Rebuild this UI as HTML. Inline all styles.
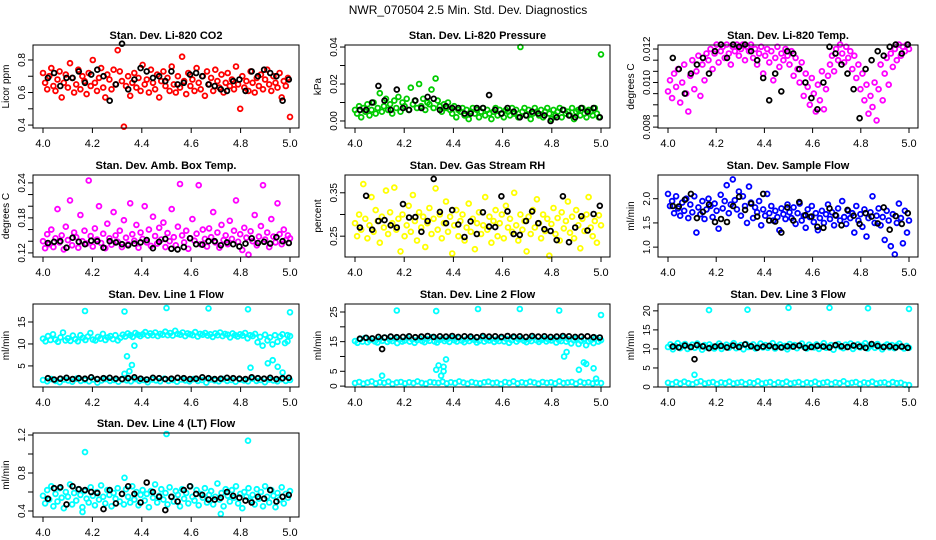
<!DOCTYPE html>
<html><head><meta charset="utf-8"><title>NWR_070504 Diagnostics</title>
<style>
html,body{margin:0;padding:0;background:#fff;}
svg{display:block;font-family:"Liberation Sans",sans-serif;}
</style></head>
<body>
<svg id="chart" width="936" height="540" viewBox="0 0 936 540" xmlns="http://www.w3.org/2000/svg">
<rect x="0" y="0" width="936" height="540" fill="#fff"/>
<text x="468" y="14" font-size="12" text-anchor="middle" fill="#000">NWR_070504  2.5 Min. Std. Dev. Diagnostics</text>
</svg>
<script>
const xTicks=[4.0,4.2,4.4,4.6,4.8,5.0];
const xTickLabels=["4.0","4.2","4.4","4.6","4.8","5.0"];

const co2Red=[0.72,0.66,0.62,0.70,0.75,0.64,0.61,0.68,0.73,0.57,0.66,0.71,0.63,0.78,0.69,0.60,0.65,0.74,0.62,0.70,
0.67,0.59,0.72,0.64,0.80,0.66,0.61,0.69,0.75,0.63,0.57,0.71,0.68,0.62,0.74,0.65,0.86,0.73,0.67,0.39,
0.64,0.70,0.58,0.66,0.72,0.63,0.69,0.61,0.77,0.65,0.68,0.60,0.74,0.66,0.62,0.71,0.57,0.67,0.73,0.64,
0.69,0.61,0.76,0.65,0.60,0.70,0.63,0.82,0.67,0.59,0.72,0.64,0.68,0.61,0.75,0.66,0.62,0.70,0.58,0.73,
0.65,0.69,0.61,0.74,0.67,0.63,0.71,0.60,0.66,0.72,0.64,0.68,0.62,0.76,0.65,0.50,0.70,0.63,0.67,0.61,
0.73,0.66,0.60,0.69,0.64,0.71,0.62,0.68,0.74,0.65,0.61,0.70,0.66,0.63,0.72,0.57,0.67,0.64,0.69,0.45];
const co2Black=[0.69,0.72,0.64,0.69,0.69,0.73,0.66,0.71,0.74,0.70,0.55,0.65,0.90,0.62,0.68,0.75,0.73,0.69,0.70,0.67,0.73,0.65,0.66,0.71,0.72,0.70,0.65,0.64,0.62,0.61,0.67,0.68,0.61,0.73,0.70,0.74,0.72,0.70,0.55,0.68];

const presGreen=[0.006,0.004,0.008,0.002,0.007,0.005,0.009,0.003,0.006,0.010,0.004,0.007,0.015,0.005,0.008,0.012,0.006,0.009,0.004,0.011,
0.007,0.013,0.005,0.010,0.008,0.012,0.006,0.018,0.009,0.011,0.007,0.020,0.008,0.012,0.006,0.010,0.009,0.017,0.007,0.023,
0.011,0.008,0.005,0.009,0.007,0.010,0.006,0.004,0.008,0.002,0.006,0.005,0.007,0.003,0.006,0.001,0.005,0.007,0.004,0.006,
0.002,0.005,0.007,0.003,0.006,0.004,0.001,0.005,0.007,0.003,0.006,0.004,0.002,0.006,0.005,0.003,0.007,0.004,0.006,0.002,
0.040,0.005,0.007,0.003,0.006,0.001,0.004,0.007,0.005,0.003,0.006,0.002,0.005,0.007,0.004,0.001,0.006,0.003,0.005,0.007,
0.002,0.006,0.004,0.005,0.003,0.007,0.001,0.005,0.006,0.003,0.007,0.004,0.002,0.006,0.005,0.003,0.007,0.004,0.002,0.036];
const presBlack=[0.006,0.006,0.010,0.019,0.011,0.006,0.017,0.007,0.006,0.011,0.007,0.013,0.012,0.006,0.008,0.007,0.007,0.004,0.004,0.007,0.007,0.014,0.006,0.004,0.007,0.005,0.002,0.003,0.005,0.004,0.003,0.000,0.002,0.006,0.003,0.002,0.007,0.005,0.007,0.002];

const tempMagenta=[0.0096,0.0101,0.0093,0.0104,0.0098,0.0106,0.0091,0.0100,0.0108,0.0095,0.0087,0.0103,0.0110,0.0097,0.0105,0.0112,0.0094,0.0108,0.0101,0.0113,
0.0110,0.0115,0.0106,0.0113,0.0117,0.0109,0.0114,0.0116,0.0111,0.0117,0.0113,0.0108,0.0116,0.0114,0.0117,0.0112,0.0115,0.0117,0.0110,0.0116,
0.0114,0.0117,0.0111,0.0115,0.0108,0.0113,0.0116,0.0104,0.0112,0.0115,0.0109,0.0114,0.0101,0.0111,0.0116,0.0107,0.0113,0.0110,0.0115,0.0112,
0.0108,0.0114,0.0103,0.0111,0.0106,0.0100,0.0109,0.0094,0.0104,0.0098,0.0090,0.0102,0.0095,0.0087,0.0099,0.0092,0.0105,0.0088,0.0097,0.0103,
0.0108,0.0112,0.0105,0.0115,0.0110,0.0117,0.0113,0.0109,0.0116,0.0111,0.0114,0.0106,0.0112,0.0102,0.0108,0.0097,0.0104,0.0092,0.0099,0.0086,
0.0094,0.0089,0.0100,0.0083,0.0097,0.0108,0.0092,0.0104,0.0111,0.0099,0.0113,0.0107,0.0115,0.0110,0.0117,0.0112,0.0116,0.0114,0.0117,0.0115];
const tempBlack=[0.0111,0.0106,0.0095,0.0104,0.0108,0.0111,0.0104,0.0114,0.0117,0.0111,0.0117,0.0116,0.0117,0.0114,0.0110,0.0102,0.0092,0.0104,0.0096,0.0114,0.0113,0.0106,0.0100,0.0093,0.0088,0.0100,0.0116,0.0113,0.0108,0.0104,0.0097,0.0084,0.0106,0.0110,0.0114,0.0112,0.0116,0.0117,0.0113,0.0117];

const ambMagenta=[0.140,0.128,0.152,0.135,0.160,0.130,0.145,0.195,0.138,0.150,0.126,0.165,0.142,0.210,0.133,0.155,0.147,0.129,0.185,0.140,
0.158,0.136,0.244,0.149,0.131,0.162,0.143,0.200,0.137,0.153,0.128,0.170,0.145,0.134,0.190,0.150,0.139,0.158,0.130,0.176,
0.146,0.135,0.205,0.152,0.141,0.168,0.129,0.155,0.144,0.200,0.138,0.160,0.132,0.182,0.149,0.136,0.163,0.143,0.172,0.130,
0.154,0.140,0.195,0.147,0.133,0.165,0.238,0.150,0.138,0.158,0.127,0.145,0.178,0.141,0.153,0.236,0.135,0.160,0.144,0.131,
0.162,0.147,0.190,0.138,0.155,0.129,0.168,0.142,0.150,0.135,0.175,0.144,0.158,0.210,0.139,0.152,0.125,0.163,0.146,0.117,
0.157,0.140,0.185,0.133,0.148,0.166,0.236,0.143,0.155,0.130,0.178,0.148,0.138,0.205,0.152,0.135,0.160,0.142,0.150,0.145];
const ambBlack=[0.137,0.139,0.140,0.129,0.146,0.139,0.135,0.141,0.140,0.129,0.140,0.138,0.135,0.133,0.136,0.138,0.142,0.128,0.139,0.144,0.127,0.126,0.130,0.145,0.135,0.134,0.140,0.140,0.133,0.138,0.135,0.131,0.136,0.145,0.137,0.139,0.136,0.147,0.140,0.137];

const rhYellow=[0.280,0.250,0.300,0.265,0.370,0.290,0.245,0.275,0.340,0.260,0.310,0.285,0.235,0.295,0.270,0.355,0.255,0.305,0.280,0.362,
0.265,0.290,0.215,0.300,0.250,0.275,0.320,0.260,0.345,0.285,0.240,0.305,0.270,0.295,0.225,0.280,0.315,0.255,0.290,0.360,
0.265,0.300,0.245,0.280,0.330,0.260,0.295,0.210,0.275,0.310,0.250,0.285,0.300,0.240,0.270,0.325,0.260,0.290,0.220,0.280,
0.305,0.255,0.275,0.340,0.265,0.295,0.235,0.285,0.310,0.250,0.280,0.300,0.245,0.320,0.270,0.290,0.260,0.350,0.275,0.240,
0.300,0.265,0.285,0.215,0.295,0.255,0.310,0.270,0.335,0.280,0.245,0.300,0.262,0.290,0.205,0.278,0.315,0.255,0.292,0.240,
0.305,0.268,0.285,0.330,0.258,0.295,0.245,0.310,0.275,0.222,0.290,0.262,0.300,0.340,0.270,0.250,0.285,0.235,0.298,0.275];
const rhBlack=[0.270,0.343,0.265,0.285,0.287,0.275,0.270,0.324,0.293,0.294,0.260,0.285,0.382,0.306,0.280,0.310,0.277,0.248,0.284,0.255,0.305,0.272,0.271,0.342,0.307,0.255,0.253,0.285,0.307,0.280,0.266,0.262,0.241,0.342,0.236,0.270,0.296,0.263,0.301,0.320];

const flowBlue=[2.10,1.85,1.95,1.70,2.05,1.80,1.65,1.92,1.75,2.00,1.60,1.88,1.72,2.05,1.30,1.82,1.68,1.95,1.58,1.78,
2.00,1.85,1.62,1.90,1.75,1.38,2.08,1.80,1.95,2.28,1.70,1.88,2.40,1.97,1.78,2.15,1.65,2.05,1.85,1.50,
2.25,1.92,1.60,1.82,1.72,1.95,1.45,1.78,1.65,2.10,1.70,1.85,1.55,1.75,1.62,1.35,1.80,1.68,1.58,1.88,
1.72,1.60,1.82,1.48,1.70,1.90,1.55,1.65,1.40,1.78,1.62,1.85,1.52,1.70,1.35,1.60,1.75,1.50,1.68,1.88,
1.58,1.72,1.45,1.65,1.80,1.55,1.95,1.62,1.48,1.75,1.60,1.70,1.30,1.85,1.55,1.68,1.42,1.78,1.22,1.60,
1.72,2.05,1.50,1.65,1.80,1.45,1.62,1.15,1.75,1.55,1.02,1.68,0.85,1.50,1.90,1.60,1.08,1.75,1.30,1.55];
const flowBlack=[1.85,1.84,1.98,2.10,1.60,1.73,1.88,1.52,1.58,1.52,1.85,2.04,1.77,1.90,1.63,2.10,1.55,1.53,1.30,1.82,1.55,1.93,1.66,1.63,1.42,1.40,1.80,1.66,1.45,1.77,1.65,1.48,1.70,1.63,1.49,1.82,1.36,1.64,1.48,1.70];

const l1High=[11.2,10.6,11.8,10.9,12.2,11.0,10.5,11.5,12.6,10.8,11.3,10.7,11.9,11.1,10.6,12.0,11.4,10.9,11.7,12.5,
11.0,10.8,11.6,11.2,12.3,10.9,11.5,11.8,11.1,12.0,10.8,11.4,12.1,11.7,12.4,12.0,11.6,12.5,12.1,11.8,
12.2,12.7,11.9,12.4,12.0,12.6,11.8,12.3,12.1,12.8,12.0,12.5,11.9,13.0,12.3,12.1,12.6,11.8,12.4,12.2,
12.0,12.7,11.7,12.3,12.1,12.5,11.9,12.2,11.6,12.4,12.0,12.6,11.8,12.3,12.1,11.5,12.4,12.0,11.7,12.2,
11.9,12.5,11.3,12.0,11.8,12.3,10.4,11.6,9.6,12.1,10.8,11.5,9.9,12.0,10.5,11.7,12.2,10.2,12.0,11.8];
const l1Low=[1.8,1.5,2.0,1.6,1.3,1.9,1.7,1.4,2.1,1.6,1.8,1.5,1.9,1.2,1.7,2.0,1.6,1.8,1.4,1.9,1.7,1.5,2.0,1.6,1.8,1.3,1.9,1.7,1.5,2.1,1.6,1.8,1.4,1.9,1.7,1.5,2.0,1.6,1.8,1.2,1.9,1.7,1.5,2.0,1.6,1.8,1.4,1.9,1.7,1.5,2.1,1.6,1.8,1.3,1.9,1.7,1.5,2.0,1.6,1.8];
const l1Black=[2.2,1.9,2.1,2.3,2.0,2.2,2.1,2.4,2.0,2.2,2.3,2.1,2.0,2.2,2.4,2.1,1.9,2.3,2.2,2.0,2.1,2.3,2.2,2.0,2.1,2.4,2.2,2.0,2.1,2.3,2.2,2.1,2.0,2.4,2.2,2.1,2.3,2.0,2.2,2.3];
const l1OutX=[4.17,4.33,4.50,4.67,4.83,5.00,4.33,4.34,4.35,4.36,4.37,4.84,4.91,4.93,4.95,4.97,4.99];
const l1OutY=[17.5,17.4,18.2,18.1,17.9,17.2,3.2,7.2,3.8,5.2,9.6,4.6,5.6,6.3,4.8,3.5,10.6];

const l2High=[15.2,14.6,15.8,15.0,16.2,14.8,15.5,16.0,15.1,14.7,15.9,15.3,16.4,14.9,15.6,15.2,16.1,14.5,15.7,15.0,
15.4,16.3,15.0,15.8,14.6,15.5,16.1,15.2,14.8,15.9,15.3,16.5,15.1,14.7,15.6,16.0,15.2,15.7,14.9,16.2,
15.5,15.0,16.3,15.4,14.8,15.9,15.2,16.1,15.6,14.7,15.3,16.4,15.0,15.8,15.4,16.0,14.9,15.7,15.2,16.2,
15.1,15.9,14.6,15.5,16.3,15.0,15.7,16.1,15.3,14.8,15.8,15.2,16.4,15.5,14.9,15.6,16.0,15.1,15.7,15.4,
16.1,14.7,15.6,15.2,16.3,15.0,15.8,14.4,15.5,16.0,14.2,15.3,15.9,13.8,15.1,15.6,14.5,16.2,15.0,15.5];
const l2Low=[1.0,1.4,0.8,1.2,1.6,0.9,1.3,1.1,1.5,0.7,1.2,1.4,0.9,1.3,1.0,1.6,1.1,0.8,1.4,1.2,1.1,1.5,0.9,1.3,1.0,1.6,1.2,0.8,1.4,1.1,0.9,1.3,1.5,1.0,1.2,0.7,1.4,1.1,1.6,0.9,1.3,1.0,1.5,1.2,0.8,1.4,1.1,1.3,0.9,1.6,1.0,1.2,1.4,0.8,1.5,1.1,1.3,0.9,1.2,1.0];
const l2Black=[16.0,16.3,16.1,16.6,16.4,16.7,16.5,16.6,16.8,16.5,16.7,16.9,16.6,16.8,16.7,16.9,16.6,16.8,16.7,16.5,16.9,16.7,16.8,16.6,16.9,16.7,16.8,16.6,16.9,16.7,16.8,16.6,16.7,16.9,16.8,16.6,16.7,16.8,16.5,16.4];
const l2OutX=[4.17,4.33,4.50,4.67,4.83,5.00,4.11,4.33,4.34,4.35,4.36,4.36,4.37,4.85,4.86,4.91,4.93,4.94,4.97,4.98];
const l2OutY=[25.5,25.3,26.0,26.0,25.5,24.0,3.5,5.5,7.0,3.5,6.5,5.0,9.0,10.0,11.5,5.5,8.0,7.5,6.0,2.5];
const l2BlackOutX=[4.11];
const l2BlackOutY=[12.5];

const l3High=[10.5,11.2,9.9,10.8,11.5,10.2,10.9,11.3,10.0,10.6,11.1,10.3,11.4,10.7,9.8,11.0,10.4,11.2,10.6,10.1,
10.8,11.4,10.0,10.6,11.1,10.3,10.9,11.5,10.2,10.7,11.0,9.9,11.3,10.5,10.8,11.2,10.1,10.6,11.4,10.4,
11.0,10.3,10.9,11.5,10.1,10.7,11.2,10.4,10.8,9.9,11.3,10.6,11.0,10.2,10.9,11.4,10.5,10.1,11.1,10.7,
10.4,11.2,10.0,10.8,11.5,10.3,10.6,11.0,9.8,10.9,11.3,10.5,10.2,11.1,10.7,11.4,10.0,10.6,11.2,10.4,
10.9,11.5,10.1,10.7,11.0,10.3,11.3,10.6,9.9,10.8,11.2,10.4,11.0,10.2,10.9,11.4,10.5,10.1,10.8,10.3];
const l3Low=[1.1,0.8,1.3,0.9,1.4,1.0,0.7,1.2,1.5,0.9,1.1,1.3,0.8,1.2,1.0,1.4,0.9,1.1,1.3,0.8,1.2,1.0,1.5,0.9,1.1,1.3,0.7,1.2,1.0,1.4,0.9,1.1,1.3,0.8,1.2,1.0,1.4,0.9,1.1,1.3,0.8,1.2,1.0,1.5,0.9,1.1,1.3,0.8,1.2,1.0,1.4,0.9,1.1,1.2,0.8,1.3,1.0,1.1,0.6,0.5];
const l3Black=[10.6,10.4,10.9,10.5,11.0,10.7,10.2,10.6,10.8,10.4,10.9,10.5,11.2,10.7,10.3,10.6,10.8,10.5,10.4,10.7,10.6,10.9,10.3,10.5,10.8,10.6,10.4,11.0,10.7,10.5,10.9,10.6,10.3,11.3,10.8,10.5,10.7,10.4,10.6,10.3];
const l3OutX=[4.17,4.33,4.50,4.67,4.83,5.00,4.11];
const l3OutY=[20.2,20.3,20.8,20.8,20.7,20.5,3.2];
const l3BlackOutX=[4.11];
const l3BlackOutY=[7.3];

const l4Cyan=[0.56,0.48,0.62,0.52,0.66,0.45,0.58,0.50,0.64,0.54,0.43,0.60,0.55,0.68,0.47,0.59,0.51,0.63,0.57,0.44,
0.61,0.53,0.49,0.65,0.56,0.46,0.60,0.52,0.67,0.55,0.48,0.62,0.57,0.45,0.59,0.53,0.64,0.50,0.58,0.47,
0.63,0.55,0.49,0.66,0.52,0.60,0.46,0.57,0.62,0.51,0.58,0.44,0.61,0.54,0.68,0.49,0.56,0.63,0.52,0.59,
0.47,0.65,0.55,0.50,0.61,0.57,0.45,0.63,0.53,0.59,0.48,0.66,0.55,0.51,0.62,0.46,0.58,0.54,0.64,0.49,
0.57,0.61,0.47,0.55,0.69,0.52,0.59,0.45,0.63,0.56,0.50,0.62,0.54,0.66,0.48,0.58,0.43,0.60,0.55,0.64,
0.51,0.57,0.47,0.63,0.53,0.60,0.45,0.66,0.55,0.49,0.62,0.56,0.44,0.59,0.52,0.65,0.48,0.58,0.54,0.61];
const l4Black=[0.53,0.64,0.65,0.47,0.66,0.63,0.62,0.60,0.59,0.42,0.62,0.48,0.58,0.66,0.58,0.49,0.70,0.60,0.55,0.41,0.55,0.50,0.62,0.66,0.58,0.57,0.52,0.52,0.54,0.60,0.56,0.54,0.51,0.49,0.55,0.53,0.62,0.50,0.55,0.57];
const l4OutX=[4.17,4.50,4.83,4.33,4.72,4.16];
const l4OutY=[1.02,1.21,1.14,0.75,0.37,0.39];

const svg=document.getElementById('chart');
const NS='http://www.w3.org/2000/svg';
function mk(tag,attrs,parent){const e=document.createElementNS(NS,tag);for(const k in attrs)e.setAttribute(k,attrs[k]);parent.appendChild(e);return e;}

function panel(cfg){
  const g=mk('g',{},svg);
  
  
  const L=cfg.box[0],T=cfg.box[1],R=cfg.box[2],B=cfg.box[3];
  const x0=L+10,x1=R-9;
  const xs=v=>x0+(v-4)*(x1-x0);
  const ys=v=>B-(v-cfg.yd[0])/(cfg.yd[1]-cfg.yd[0])*(B-T);
  const t=mk('text',{x:(L+R)/2,y:T-6,'font-size':11,'font-weight':'bold','text-anchor':'middle'},g);
  
  
  t.textContent=cfg.title;
  const yl=mk('text',{x:0,y:0,'font-size':10,'text-anchor':'middle',transform:`translate(${L-24},${(T+B)/2}) rotate(-90)`},g);
  
  
  yl.textContent=cfg.ylab;
  const pts=mk('g',{fill:'none','stroke-width':1.8},g);
  
  
  cfg.series.forEach(s=>{
    const n=s.y.length;
    for(let i=0;i<n;i++){
      const xv=s.x?s.x[i]:(s.xr[0]+(s.xr[1]-s.xr[0])*i/(n-1));
      const c=mk('circle',{cx:xs(xv).toFixed(1),cy:ys(s.y[i]).toFixed(1),r:2.4,stroke:s.c},pts);
      
      
    }
  });
  const box=mk('rect',{x:L,y:T,width:R-L,height:B-T,fill:'none',stroke:'#000','stroke-width':1},g);
  
  
  const xa=mk('g',{},g);
  
  
  mk('line',{x1:xs(4),x2:xs(5),y1:B,y2:B,stroke:'#000'},xa);
  xTicks.forEach((v,i)=>{
    mk('line',{x1:xs(v),x2:xs(v),y1:B,y2:B+5,stroke:'#000'},xa);
    const tl=mk('text',{x:xs(v),y:B+19,'font-size':11,'text-anchor':'middle'},xa);
    
    
    tl.textContent=xTickLabels[i];
  });
  const ya=mk('g',{},g);
  
  
  cfg.yt.forEach((v,i)=>{
    mk('line',{x1:L-5,x2:L,y1:ys(v),y2:ys(v),stroke:'#000'},ya);
    if(cfg.ytl[i]){
      const tl=mk('text',{x:0,y:0,'font-size':10,'text-anchor':'middle',transform:`translate(${L-8},${ys(v)}) rotate(-90)`},ya);
      
      
      tl.textContent=cfg.ytl[i];
    }
  });
}
const RED='#ff0000',GRN='#00cc00',MAG='#ff00ff',YEL='#ffff00',BLU='#0000ff',CYN='#00ffff',BLK='#000000';
const FX=[4.0,5.0],BX=[4.02,4.995];
const C1=[33,299],C2=[345,610],C3=[658,918];
const R1=[45,128],R2=[175,257],R3=[304,387],R4=[433,517];
function bx(c,r){return [c[0],r[0],c[1],r[1]];}

panel({name:'panel-co2',title:'Stan. Dev. Li-820 CO2',ylab:'Licor ppm',box:bx(C1,R1),yd:[0.382,0.892],yt:[0.4,0.5,0.6,0.7,0.8],ytl:['0.4','','0.6','','0.8'],
 series:[{y:co2Red,xr:FX,c:RED,nm:'co2-point'},{y:co2Black,xr:BX,c:BLK,nm:'co2-reference-point'}]});
panel({name:'panel-pressure',title:'Stan. Dev. Li-820 Pressure',ylab:'kPa',box:bx(C2,R1),yd:[-0.0038,0.0411],yt:[0,0.01,0.02,0.03,0.04],ytl:['0.00','','0.02','','0.04'],
 series:[{y:presGreen,xr:FX,c:GRN,nm:'pressure-point'},{y:presBlack,xr:BX,c:BLK,nm:'pressure-reference-point'}]});
panel({name:'panel-temp',title:'Stan. Dev. Li-820 Temp.',ylab:'degrees C',box:bx(C3,R1),yd:[0.00796,0.01168],yt:[0.008,0.0085,0.009,0.0095,0.010,0.0105,0.011,0.0115],ytl:['0.008','','','','0.010','','','0.012'],
 series:[{y:tempMagenta,xr:FX,c:MAG,nm:'temp-point'},{y:tempBlack,xr:BX,c:BLK,nm:'temp-reference-point'}]});
panel({name:'panel-amb-box-temp',title:'Stan. Dev. Amb. Box Temp.',ylab:'degrees C',box:bx(C1,R2),yd:[0.113,0.2535],yt:[0.12,0.14,0.16,0.18,0.20,0.22,0.24],ytl:['0.12','','','0.18','','','0.24'],
 series:[{y:ambMagenta,xr:FX,c:MAG,nm:'amb-temp-point'},{y:ambBlack,xr:BX,c:BLK,nm:'amb-temp-reference-point'}]});
panel({name:'panel-gas-rh',title:'Stan. Dev. Gas Stream RH',ylab:'percent',box:bx(C2,R2),yd:[0.202,0.391],yt:[0.25,0.30,0.35],ytl:['0.25','','0.35'],
 series:[{y:rhYellow,xr:FX,c:YEL,nm:'rh-point'},{y:rhBlack,xr:BX,c:BLK,nm:'rh-reference-point'}]});
panel({name:'panel-sample-flow',title:'Stan. Dev. Sample Flow',ylab:'ml/min',box:bx(C3,R2),yd:[0.796,2.49],yt:[1.0,1.5,2.0],ytl:['1.0','1.5','2.0'],
 series:[{y:flowBlue,xr:FX,c:BLU,nm:'sample-flow-point'},{y:flowBlack,xr:BX,c:BLK,nm:'sample-flow-reference-point'}]});
panel({name:'panel-line1-flow',title:'Stan. Dev. Line 1 Flow',ylab:'ml/min',box:bx(C1,R3),yd:[0.2,19.1],yt:[5,10,15],ytl:['5','10','15'],
 series:[{y:l1High,xr:FX,c:CYN,nm:'line1-point'},{y:l1Low,xr:FX,c:CYN,nm:'line1-point'},{x:l1OutX,y:l1OutY,c:CYN,nm:'line1-point'},{y:l1Black,xr:BX,c:BLK,nm:'line1-reference-point'}]});
panel({name:'panel-line2-flow',title:'Stan. Dev. Line 2 Flow',ylab:'ml/min',box:bx(C2,R3),yd:[-0.3,27.7],yt:[0,5,10,15,20,25],ytl:['0','5','','15','','25'],
 series:[{y:l2High,xr:FX,c:CYN,nm:'line2-point'},{y:l2Low,xr:FX,c:CYN,nm:'line2-point'},{x:l2OutX,y:l2OutY,c:CYN,nm:'line2-point'},{y:l2Black,xr:BX,c:BLK,nm:'line2-reference-point'},{x:l2BlackOutX,y:l2BlackOutY,c:BLK,nm:'line2-reference-point'}]});
panel({name:'panel-line3-flow',title:'Stan. Dev. Line 3 Flow',ylab:'ml/min',box:bx(C3,R3),yd:[0,21.8],yt:[0,5,10,15,20],ytl:['0','5','10','15','20'],
 series:[{y:l3High,xr:FX,c:CYN,nm:'line3-point'},{y:l3Low,xr:FX,c:CYN,nm:'line3-point'},{x:l3OutX,y:l3OutY,c:CYN,nm:'line3-point'},{y:l3Black,xr:BX,c:BLK,nm:'line3-reference-point'},{x:l3BlackOutX,y:l3BlackOutY,c:BLK,nm:'line3-reference-point'}]});
panel({name:'panel-line4-flow',title:'Stan. Dev. Line 4 (LT) Flow',ylab:'ml/min',box:bx(C1,R4),yd:[0.337,1.221],yt:[0.4,0.6,0.8,1.0,1.2],ytl:['0.4','','0.8','','1.2'],
 series:[{y:l4Cyan,xr:FX,c:CYN,nm:'line4-point'},{x:l4OutX,y:l4OutY,c:CYN,nm:'line4-point'},{y:l4Black,xr:BX,c:BLK,nm:'line4-reference-point'}]});
</script>
</body></html>
